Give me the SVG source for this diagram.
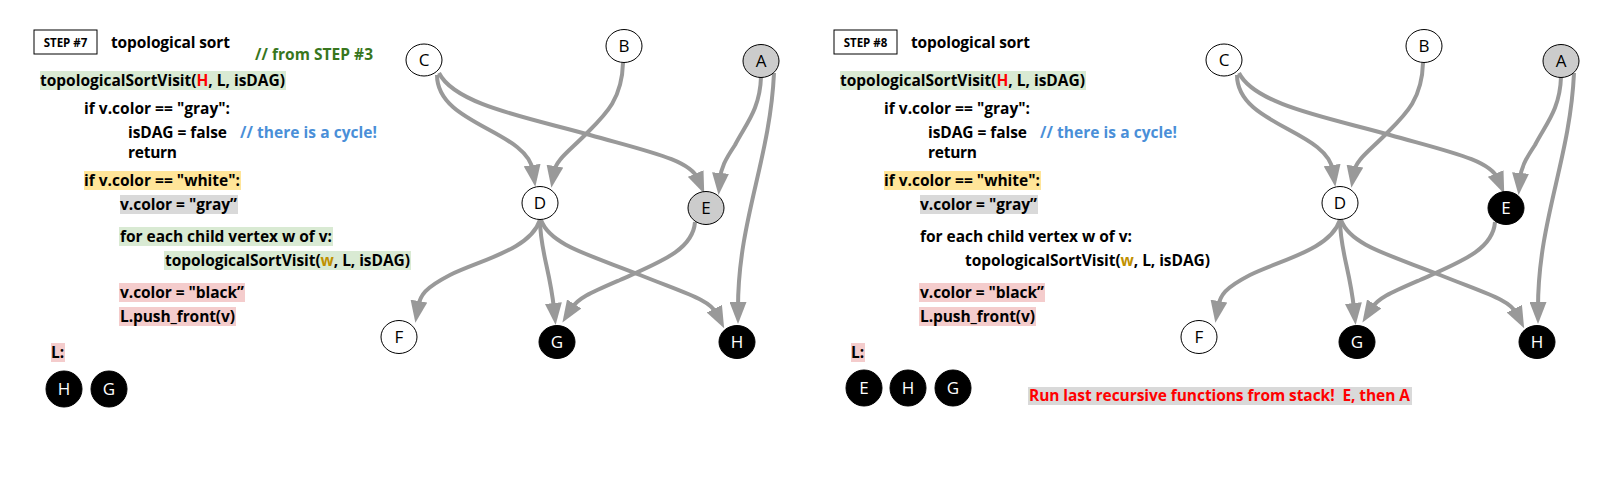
<svg xmlns="http://www.w3.org/2000/svg" width="1609" height="492" viewBox="0 0 1609 492">
<defs>
<style>
text{font-family:"Open Sans","Noto Sans","DejaVu Sans",sans-serif;}
.c{font-size:15.5px;font-weight:bold;fill:#000;white-space:pre;}
.step{font-size:11.5px;font-weight:bold;text-anchor:middle;}
.box{fill:#fff;stroke:#000;stroke-width:1;}
.hg{fill:#d9ead3;}
.hy{fill:#ffe599;}
.hgr{fill:#d9d9d9;}
.hp{fill:#f4cccc;}
.red{fill:#ff0000;}
.gold{fill:#bf9000;}
.green{fill:#38761d;}
.blue{fill:#4a8fd8;}
.nw{fill:#fff;stroke:#000;stroke-width:1;}
.ng{fill:#cccccc;stroke:#000;stroke-width:1;}
.nb{fill:#000;stroke:#000;stroke-width:1;}
.nl{font-size:17px;text-anchor:middle;fill:#000;}
.nlw{font-size:17px;text-anchor:middle;fill:#fff;}
.e{fill:none;stroke:#999;stroke-width:4;marker-end:url(#ah);}
</style>
<marker id="ah" viewBox="0 0 22 17" markerWidth="22" markerHeight="17" markerUnits="userSpaceOnUse" refX="6" refY="8.5" orient="auto">
<path d="M0,0 L22,8.5 L0,17 z" fill="#999"/>
</marker>
</defs>

<!-- STEP 7 code -->
<g id="step7-code">
<rect class="box" x="34" y="30" width="63" height="24"/>
<text class="step" x="65.5" y="46.5">STEP #7</text>
<text class="c" x="111" y="48" textLength="119">topological sort</text>
<text class="c green" x="255" y="60" textLength="118">// from STEP #3</text>
<rect class="hg" x="40" y="71" width="246" height="19"/>
<text class="c" x="40" y="86" textLength="245">topologicalSortVisit(<tspan class="red">H</tspan>, L, isDAG)</text>
<text class="c" x="84" y="114" textLength="146">if v.color == "gray":</text>
<text class="c" x="128" y="138" textLength="99">isDAG = false</text>
<text class="c blue" x="240" y="138" textLength="137">// there is a cycle!</text>
<text class="c" x="128" y="158" textLength="49">return</text>
<rect class="hy" x="84" y="171" width="157" height="19"/>
<text class="c" x="84" y="186" textLength="156">if v.color == "white":</text>
<rect class="hgr" x="120" y="195" width="118" height="19"/>
<text class="c" x="120" y="210" textLength="117">v.color = "gray”</text>
<rect class="hg" x="119" y="227" width="214" height="19"/>
<text class="c" x="120" y="242" textLength="212">for each child vertex w of v:</text>
<rect class="hg" x="164" y="251" width="247" height="19"/>
<text class="c" x="165" y="266" textLength="245">topologicalSortVisit(<tspan class="gold">w</tspan>, L, isDAG)</text>
<rect class="hp" x="119" y="283" width="126" height="19"/>
<text class="c" x="120" y="298" textLength="124">v.color = "black”</text>
<rect class="hp" x="119" y="307" width="117" height="19"/>
<text class="c" x="120" y="322" textLength="115">L.push_front(v)</text>
<rect class="hp" x="51" y="343" width="14" height="19"/>
<text class="c" x="51" y="358">L:</text>
</g>
<g id="step7-list">
<circle class="nb" cx="64" cy="389" r="18"/><text class="nlw" x="64" y="395">H</text>
<circle class="nb" cx="109" cy="389" r="18"/><text class="nlw" x="109" y="395">G</text>
</g>

<!-- STEP 7 graph connectors -->
<g id="step7-edges">
<path class="e" d="M437,75 C437,125 527,130 533,171"/>
<path class="e" d="M439,73 C455,105 530,118 590,135 C650,152 690,160 698,179"/>
<path class="e" d="M623,63 C622,100 605,115 585,135 C568,152 556,160 554,172"/>
<path class="e" d="M761,77 C760,110 745,125 735,145 C725,160 721,168 720,179"/>
<path class="e" d="M774,73 C770,160 738,220 738,308"/>
<path class="e" d="M540,220 C530,250 480,260 450,275 C425,288 420,295 418,307"/>
<path class="e" d="M540,220 C540,250 550,270 554,309"/>
<path class="e" d="M541,220 C550,245 590,255 640,275 C690,295 710,300 717,314"/>
<path class="e" d="M695,222 C693,250 660,262 620,280 C590,293 578,298 571,309"/>
</g>
<g id="s7-C"><ellipse class="nw" cx="424" cy="60" rx="18" ry="16"/><text class="nl" x="424" y="66">C</text></g>
<g id="s7-B"><ellipse class="nw" cx="624" cy="46" rx="18" ry="16.5"/><text class="nl" x="624" y="52">B</text></g>
<g id="s7-A"><ellipse class="ng" cx="761" cy="61" rx="18" ry="16.5"/><text class="nl" x="761" y="67">A</text></g>
<g id="s7-D"><ellipse class="nw" cx="540" cy="203" rx="18" ry="16.5"/><text class="nl" x="540" y="209">D</text></g>
<g id="s7-E"><ellipse class="ng" cx="706" cy="208" rx="18" ry="16.5"/><text class="nl" x="706" y="214">E</text></g>
<g id="s7-F"><ellipse class="nw" cx="399" cy="337" rx="18" ry="16.5"/><text class="nl" x="399" y="343">F</text></g>
<g id="s7-G"><ellipse class="nb" cx="557" cy="342" rx="18" ry="16.5"/><text class="nlw" x="557" y="348">G</text></g>
<g id="s7-H"><ellipse class="nb" cx="737" cy="342" rx="18" ry="16.5"/><text class="nlw" x="737" y="348">H</text></g>

<!-- STEP 8 code -->
<g id="step8-code">
<rect class="box" x="834" y="30" width="63" height="24"/>
<text class="step" x="865.5" y="46.5">STEP #8</text>
<text class="c" x="911" y="48" textLength="119">topological sort</text>
<rect class="hg" x="840" y="71" width="246" height="19"/>
<text class="c" x="840" y="86" textLength="245">topologicalSortVisit(<tspan class="red">H</tspan>, L, isDAG)</text>
<text class="c" x="884" y="114" textLength="146">if v.color == "gray":</text>
<text class="c" x="928" y="138" textLength="99">isDAG = false</text>
<text class="c blue" x="1040" y="138" textLength="137">// there is a cycle!</text>
<text class="c" x="928" y="158" textLength="49">return</text>
<rect class="hy" x="884" y="171" width="157" height="19"/>
<text class="c" x="884" y="186" textLength="156">if v.color == "white":</text>
<rect class="hgr" x="920" y="195" width="118" height="19"/>
<text class="c" x="920" y="210" textLength="117">v.color = "gray”</text>
<text class="c" x="920" y="242" textLength="212">for each child vertex w of v:</text>
<text class="c" x="965" y="266" textLength="245">topologicalSortVisit(<tspan class="gold">w</tspan>, L, isDAG)</text>
<rect class="hp" x="919" y="283" width="126" height="19"/>
<text class="c" x="920" y="298" textLength="124">v.color = "black”</text>
<rect class="hp" x="919" y="307" width="117" height="19"/>
<text class="c" x="920" y="322" textLength="115">L.push_front(v)</text>
<rect class="hp" x="851" y="343" width="14" height="19"/>
<text class="c" x="851" y="358">L:</text>
<rect class="hgr" x="1028" y="387" width="384" height="18"/>
<text class="c red" x="1029" y="401" textLength="381">Run last recursive functions from stack!&#160; E, then A</text>
</g>
<g id="step8-list">
<circle class="nb" cx="864" cy="388" r="18"/><text class="nlw" x="864" y="394">E</text>
<circle class="nb" cx="908" cy="388" r="18"/><text class="nlw" x="908" y="394">H</text>
<circle class="nb" cx="953" cy="388" r="18"/><text class="nlw" x="953" y="394">G</text>
</g>

<!-- STEP 8 graph connectors -->
<g id="step8-edges" transform="translate(800,0)">
<path class="e" d="M437,75 C437,125 527,130 533,171"/>
<path class="e" d="M439,73 C455,105 530,118 590,135 C650,152 690,160 698,179"/>
<path class="e" d="M623,63 C622,100 605,115 585,135 C568,152 556,160 554,172"/>
<path class="e" d="M761,77 C760,110 745,125 735,145 C725,160 721,168 720,179"/>
<path class="e" d="M774,73 C770,160 738,220 738,308"/>
<path class="e" d="M540,220 C530,250 480,260 450,275 C425,288 420,295 418,307"/>
<path class="e" d="M540,220 C540,250 550,270 554,309"/>
<path class="e" d="M541,220 C550,245 590,255 640,275 C690,295 710,300 717,314"/>
<path class="e" d="M695,222 C693,250 660,262 620,280 C590,293 578,298 571,309"/>
</g>
<g id="s8-C"><ellipse class="nw" cx="1224" cy="60" rx="18" ry="16"/><text class="nl" x="1224" y="66">C</text></g>
<g id="s8-B"><ellipse class="nw" cx="1424" cy="46" rx="18" ry="16.5"/><text class="nl" x="1424" y="52">B</text></g>
<g id="s8-A"><ellipse class="ng" cx="1561" cy="61" rx="18" ry="16.5"/><text class="nl" x="1561" y="67">A</text></g>
<g id="s8-D"><ellipse class="nw" cx="1340" cy="203" rx="18" ry="16.5"/><text class="nl" x="1340" y="209">D</text></g>
<g id="s8-E"><ellipse class="nb" cx="1506" cy="208" rx="18" ry="16.5"/><text class="nlw" x="1506" y="214">E</text></g>
<g id="s8-F"><ellipse class="nw" cx="1199" cy="337" rx="18" ry="16.5"/><text class="nl" x="1199" y="343">F</text></g>
<g id="s8-G"><ellipse class="nb" cx="1357" cy="342" rx="18" ry="16.5"/><text class="nlw" x="1357" y="348">G</text></g>
<g id="s8-H"><ellipse class="nb" cx="1537" cy="342" rx="18" ry="16.5"/><text class="nlw" x="1537" y="348">H</text></g>
</svg>
